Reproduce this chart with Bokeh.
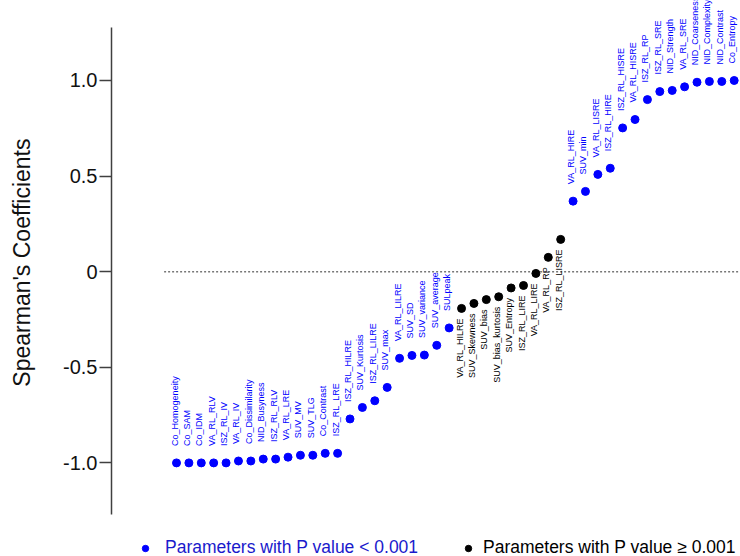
import math
from bokeh.plotting import figure
from bokeh.models import ColumnDataSource, FixedTicker, Legend, LegendItem, Range1d, Title
from bokeh.core.properties import value
from bokeh.embed import file_html
from bokeh.resources import INLINE

# ---------------- data ----------------
names = [
    "Co_Homogeneity", "Co_SAM", "Co_IDM", "VA_RL_RLV", "ISZ_RL_IV", "VA_RL_IV",
    "Co_Dissimilarity", "NID_Busyness", "ISZ_RL_RLV", "VA_RL_LRE", "SUV_MV", "SUV_TLG",
    "Co_Contrast", "ISZ_RL_LRE", "ISZ_RL_HILRE", "SUV_Kurtosis", "ISZ_RL_LILRE", "SUV_max",
    "VA_RL_LILRE", "SUV_SD", "SUV_variance", "SUV_average", "SULpeak",
    "VA_RL_HILRE", "SUV_Skewness", "SUV_bias", "SUV_bias_kurtosis", "SUV_Entropy",
    "ISZ_RL_LIRE", "VA_RL_LIRE", "VA_RL_RP", "ISZ_RL_LISRE",
    "VA_RL_HIRE", "SUV_min", "VA_RL_LISRE", "ISZ_RL_HIRE", "ISZ_RL_HISRE", "VA_RL_HISRE",
    "ISZ_RL_RP", "ISZ_RL_SRE", "NID_Strength", "VA_RL_SRE", "NID_Coarseness",
    "NID_Complexity", "NID_Contrast", "Co_Entropy",
]
coeffs = [
    -1.00, -1.00, -1.00, -1.00, -1.00, -0.99,
    -0.99, -0.98, -0.98, -0.97, -0.96, -0.96,
    -0.95, -0.95, -0.77, -0.71, -0.675, -0.605,
    -0.453, -0.438, -0.436, -0.385, -0.294,
    -0.192, -0.166, -0.146, -0.131, -0.085,
    -0.072, -0.009, 0.075, 0.169,
    0.369, 0.42, 0.509, 0.541, 0.752, 0.796,
    0.90, 0.942, 0.948, 0.967, 0.991,
    0.995, 0.995, 1.00,
]
# True = P value < 0.001 (blue), False = P value >= 0.001 (black)
significant = [True] * 23 + [False] * 9 + [True] * 14

y_ticks = [-1.0, -0.5, 0.0, 0.5, 1.0]
y_tick_labels = ["-1.0", "-0.5", "0", "0.5", "1.0"]
y_title = "Spearman's Coefficients"
legend_labels = ["Parameters with P value < 0.001", "Parameters with P value \u2265 0.001"]

# ---------------- styles ----------------
BLUE = "#0000ff"
BLACK = "#000000"
FONT = "Liberation Sans"

idx = list(range(len(names)))
blue_src = ColumnDataSource(dict(
    x=[i for i in idx if significant[i]],
    y=[coeffs[i] for i in idx if significant[i]],
    name=[names[i] for i in idx if significant[i]],
))
black_src = ColumnDataSource(dict(
    x=[i for i in idx if not significant[i]],
    y=[coeffs[i] for i in idx if not significant[i]],
    name=[names[i] for i in idx if not significant[i]],
))

p = figure(
    width=740, height=556,
    output_backend="svg", toolbar_location=None,
    x_range=Range1d(-5.245, 45.51), y_range=Range1d(-1.4895, 1.4184),
    min_border_left=111, min_border_right=0, min_border_top=0, min_border_bottom=0,
    x_axis_location=None,
    outline_line_color=None,
)
p.xgrid.visible = False
p.ygrid.visible = False

ax = p.yaxis[0]
ax.ticker = FixedTicker(ticks=y_ticks)
ax.bounds = (-1.27, 1.277)
ax.major_label_overrides = {t: l for t, l in zip(y_ticks, y_tick_labels)}
ax.axis_line_color = "#404040"
ax.axis_line_width = 1.5
ax.major_tick_line_color = "#404040"
ax.major_tick_line_width = 1.5
ax.major_tick_out = 12
ax.major_tick_in = 0
ax.minor_tick_out = 0
ax.minor_tick_in = 0
ax.major_label_standoff = 2
ax.major_label_text_font = FONT
ax.major_label_text_font_size = "20px"
ax.major_label_text_color = "#111111"

# spacing panel between the tick labels and the axis title
p.add_layout(Title(text=" ", text_font_size="1px", standoff=14), "left")
p.add_layout(Title(text=y_title, align="right", offset=138, vertical_align="top",
                   text_font=FONT, text_font_size="23px", text_font_style="normal",
                   text_color="#111111", standoff=14), "left")

# zero reference line
p.line(x=[-1, len(names)], y=[0, 0], line_color="#777777", line_width=1.5, line_dash="2 2")

r_blue = p.scatter("x", "y", source=blue_src, size=8, color=BLUE)
r_black = p.scatter("x", "y", source=black_src, size=8, color=BLACK)

p.text("x", "y", text="name", source=blue_src, angle=math.pi / 2,
       text_align="left", text_baseline="middle", x_offset=-2, y_offset=-17,
       text_font=value(FONT), text_font_size="9px", text_color=BLUE)
p.text("x", "y", text="name", source=black_src, angle=math.pi / 2,
       text_align="right", text_baseline="middle", x_offset=-2, y_offset=10,
       text_font=value(FONT), text_font_size="9px", text_color=BLACK)

common = dict(orientation="horizontal", glyph_width=16, glyph_height=16, label_height=16,
              padding=0, margin=0, border_line_color=None, background_fill_alpha=0,
              label_text_font=FONT, label_text_font_size="17.5px")
leg1 = Legend(items=[LegendItem(label=legend_labels[0], renderers=[r_blue])],
              location=(26, -2), label_standoff=12, label_text_color="#1a1acc", **common)
leg2 = Legend(items=[LegendItem(label=legend_labels[1], renderers=[r_black])],
              location=(349, -2), label_standoff=7, label_text_color=BLACK, **common)
p.add_layout(leg1)
p.add_layout(leg2)

open("out.html", "w").write(file_html(p, INLINE))
